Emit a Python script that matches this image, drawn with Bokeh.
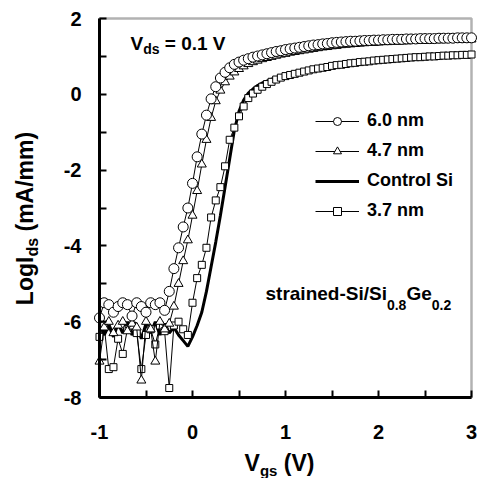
import math
from bokeh.plotting import figure
from bokeh.models import Label, Legend, LegendItem, FixedTicker, BoxAnnotation
from bokeh.embed import file_html
from bokeh.resources import INLINE

# ---------------- data ----------------
vgs = [-1.00, -0.95, -0.90, -0.85, -0.80, -0.75, -0.70, -0.65, -0.60, -0.55,
       -0.50, -0.45, -0.40, -0.35, -0.30, -0.25, -0.20, -0.15, -0.10, -0.05,
       0.00, 0.05, 0.10, 0.15, 0.20, 0.25, 0.30, 0.35, 0.40, 0.45,
       0.50, 0.55, 0.60, 0.65, 0.70, 0.75, 0.80, 0.85, 0.90, 0.95,
       1.00, 1.05, 1.10, 1.15, 1.20, 1.25, 1.30, 1.35, 1.40, 1.45,
       1.50, 1.55, 1.60, 1.65, 1.70, 1.75, 1.80, 1.85, 1.90, 1.95,
       2.00, 2.05, 2.10, 2.15, 2.20, 2.25, 2.30, 2.35, 2.40, 2.45,
       2.50, 2.55, 2.60, 2.65, 2.70, 2.75, 2.80, 2.85, 2.90, 2.95, 3.00]

log_ids_6p0 = [-5.90, -5.50, -5.55, -5.75, -5.60, -5.50, -5.55, -5.85, -5.50, -5.60,
               -5.75, -5.50, -5.55, -5.50, -5.70, -5.20, -4.60, -4.05, -3.50, -3.00,
               -2.35, -1.65, -1.05, -0.55, -0.12, 0.20, 0.43, 0.58, 0.70, 0.79,
               0.85, 0.90, 0.94, 0.98, 1.01, 1.04, 1.07, 1.10, 1.13, 1.15,
               1.18, 1.20, 1.22, 1.24, 1.26, 1.28, 1.30, 1.31, 1.33, 1.34,
               1.36, 1.37, 1.38, 1.39, 1.40, 1.40, 1.41, 1.42, 1.42, 1.43,
               1.43, 1.44, 1.44, 1.45, 1.45, 1.45, 1.46, 1.46, 1.46, 1.47,
               1.47, 1.47, 1.47, 1.48, 1.48, 1.48, 1.48, 1.49, 1.49, 1.49, 1.49]

log_ids_4p7 = [-7.05, -6.15, -6.00, -6.30, -6.10, -6.00, -6.25, -6.05, -6.15, -7.55,
               -6.00, -6.20, -7.05, -6.00, -6.20, -6.05, -5.60, -5.00, -4.40, -3.85,
               -3.20, -2.55, -1.85, -1.20, -0.62, -0.18, 0.10, 0.32, 0.47, 0.58,
               0.67, 0.74, 0.80, 0.85, 0.89, 0.93, 0.96, 0.99, 1.02, 1.05,
               1.07, 1.10, 1.12, 1.14, 1.16, 1.18, 1.20, 1.22, 1.24, 1.25,
               1.27, 1.28, 1.30, 1.31, 1.32, 1.33, 1.34, 1.35, 1.36, 1.36,
               1.37, 1.38, 1.38, 1.39, 1.39, 1.40, 1.40, 1.41, 1.41, 1.42,
               1.42, 1.42, 1.43, 1.43, 1.43, 1.44, 1.44, 1.44, 1.45, 1.45, 1.45]

log_ids_control = [-6.00, -6.35, -6.10, -6.40, -6.05, -6.30, -6.00, -6.35, -6.10, -6.45,
                   -6.05, -6.30, -6.00, -6.35, -6.05, -6.30, -6.15, -6.35, -6.50, -6.65,
                   -6.40, -6.10, -5.75, -5.20, -4.55, -3.90, -3.20, -2.45, -1.70, -0.95,
                   -0.45, -0.15, 0.03, 0.14, 0.23, 0.30, 0.35, 0.40, 0.44, 0.48,
                   0.51, 0.54, 0.57, 0.60, 0.62, 0.65, 0.67, 0.69, 0.71, 0.73,
                   0.75, 0.77, 0.78, 0.80, 0.81, 0.83, 0.84, 0.85, 0.87, 0.88,
                   0.89, 0.90, 0.91, 0.92, 0.93, 0.94, 0.95, 0.96, 0.97, 0.97,
                   0.98, 0.99, 0.99, 1.00, 1.01, 1.01, 1.02, 1.02, 1.03, 1.03, 1.04]

log_ids_3p7 = [-6.40, -6.10, -7.25, -7.20, -6.45, -6.85, -6.20, -6.10, -6.30, -7.25,
               -6.35, -6.20, -6.60, -6.10, -6.25, -7.75, -6.10, -6.00, -6.20, -6.35,
               -5.50, -4.85, -4.50, -4.05, -3.25, -2.80, -2.45, -1.90, -1.20, -0.88,
               -0.58, -0.32, -0.10, 0.02, 0.12, 0.20, 0.27, 0.33, 0.39, 0.44,
               0.48, 0.51, 0.54, 0.57, 0.60, 0.63, 0.66, 0.68, 0.70, 0.72,
               0.75, 0.77, 0.78, 0.80, 0.82, 0.83, 0.85, 0.86, 0.87, 0.89,
               0.90, 0.91, 0.92, 0.93, 0.94, 0.95, 0.96, 0.97, 0.98, 0.98,
               0.99, 1.00, 1.00, 1.01, 1.02, 1.02, 1.03, 1.03, 1.04, 1.04, 1.05]

series_labels = ["6.0 nm", "4.7 nm", "Control Si", "3.7 nm"]
x_ticks = [-1, 0, 1, 2, 3]
x_minor = [-0.5, 0.5, 1.5, 2.5]
y_ticks = [-8, -6, -4, -2, 0, 2]
y_minor = [-7, -5, -3, -1, 1]

# ---------------- layout (page pixels) ----------------
FONT = "Liberation Sans"
X0, X1, Y0, Y1 = -1, 3, -8, 2          # axis box in data units
BL, BR, BT, BB = 99, 471, 18, 397       # axis box on the page
CW, CH = 483, 478                       # canvas size
sx = (X1 - X0) / (BR - BL)
sy = (Y1 - Y0) / (BB - BT)
xr = (X0 - BL * sx, X1 + (CW - BR) * sx)
yr = (Y0 - (CH - BB) * sy, Y1 + BT * sy)
BASE_FIX = 0.48   # em: Label's baseline sits this far below the anchor


def dx(px):
    return X0 + (px - BL) * sx


def dy(py):
    return Y1 - (py - BT) * sy


p = figure(width=CW, height=CH, x_range=xr, y_range=yr,
           output_backend="svg", toolbar_location=None, min_border=0)
p.xgrid.visible = False
p.ygrid.visible = False
p.background_fill_color = "white"
p.border_fill_color = "white"
p.outline_line_color = None

p.add_layout(BoxAnnotation(left=X0, right=X1, bottom=Y0, top=Y1, fill_alpha=0,
                           line_color="black", line_width=2.5, level="underlay"))

for ax, tk, mn, loc, bnd in ((p.xaxis[0], x_ticks, x_minor, Y0, (X0, X1)),
                             (p.yaxis[0], y_ticks, y_minor, X0, (Y0, Y1))):
    ax.fixed_location = loc
    ax.bounds = bnd
    ax.ticker = FixedTicker(ticks=tk, minor_ticks=mn)
    ax.major_label_overrides = {t: str(t) for t in tk}
    ax.axis_line_width = 3
    ax.axis_line_color = "black"
    ax.major_tick_in = 7
    ax.major_tick_out = 0
    ax.minor_tick_in = 7
    ax.minor_tick_out = 0
    ax.major_tick_line_width = 2
    ax.minor_tick_line_width = 2
    ax.major_tick_line_color = "black"
    ax.minor_tick_line_color = "black"
    ax.major_label_text_font = FONT
    ax.major_label_text_font_style = "bold"
    ax.major_label_text_font_size = "20px"
    ax.major_label_text_color = "black"
p.xaxis.major_label_standoff = 27
p.yaxis.major_label_standoff = 18

# ---------------- curves ----------------
r_ctrl = p.line(vgs, log_ids_control, line_width=3, line_color="black")

r_sq_l = p.line(vgs, log_ids_3p7, line_width=1, line_color="black")
r_sq_m = p.scatter(vgs, log_ids_3p7, marker="square", size=7, fill_color="white",
                   line_color="black", line_width=1)

r_tr_l = p.line(vgs, log_ids_4p7, line_width=1, line_color="black")
r_tr_m = p.scatter(vgs, log_ids_4p7, marker="triangle", size=9, fill_color="white",
                   line_color="black", line_width=1)

r_ci_l = p.line(vgs, log_ids_6p0, line_width=1, line_color="black")
r_ci_m = p.scatter(vgs, log_ids_6p0, marker="circle", size=10, fill_color="white",
                   line_color="black", line_width=1)

legend = Legend(items=[
    LegendItem(label=series_labels[0], renderers=[r_ci_l, r_ci_m]),
    LegendItem(label=series_labels[1], renderers=[r_tr_l, r_tr_m]),
    LegendItem(label=series_labels[2], renderers=[r_ctrl]),
    LegendItem(label=series_labels[3], renderers=[r_sq_l, r_sq_m]),
], location=(315, CH - 221), padding=0, margin=0, spacing=9, glyph_width=44,
    glyph_height=20, label_height=20, label_standoff=8, label_text_font=FONT,
    label_text_font_style="bold", label_text_font_size="18px", label_text_color="black",
    border_line_alpha=0, background_fill_alpha=0)
p.add_layout(legend)

# ---------------- texts with subscripts ----------------
W = {' ': 278, '(': 333, ')': 333, '-': 333, '.': 278, '/': 278, '=': 584,
     'A': 722, 'C': 722, 'G': 778, 'I': 278, 'L': 611, 'S': 667, 'V': 667,
     'a': 556, 'd': 611, 'e': 556, 'g': 611, 'i': 278, 'l': 278, 'm': 889,
     'n': 611, 'o': 611, 'r': 389, 's': 556, 't': 333}


def tw(s, size):
    return sum(W.get(c, 556) for c in s) * size / 1000.0


def rich(parts, px, py, vertical=False):
    """px, py: page position of the baseline start of the first piece."""
    adv = 0.0
    for text, size, shift in parts:
        lead = len(text) - len(text.lstrip(" "))
        adv += tw(" " * lead, size)
        body = text.lstrip(" ")
        down = shift - BASE_FIX * size
        if vertical:
            lx, ly = px + down, py - adv
        else:
            lx, ly = px + adv, py + down
        p.add_layout(Label(x=dx(lx), y=dy(ly), text=body, text_font=FONT,
                           text_font_style="bold", text_font_size=f"{size}px",
                           text_color="black", text_align="left",
                           text_baseline="alphabetic",
                           angle=(math.pi / 2 if vertical else 0)))
        adv += tw(body, size)


rich([("V", 19, 0), ("ds", 14, 3), (" = 0.1 V", 19, 0)], 130, 52)
rich([("strained-Si/Si", 19, 0), ("0.8", 14, 9), ("Ge", 19, 0), ("0.2", 14, 9)], 265, 302)

xt = [("V", 23, 0), ("gs", 15, 3), (" (V)", 23, 0)]
xt_w = sum(tw(t, s) for t, s, _ in xt)
rich(xt, 279 - xt_w / 2, 474)

yt = [("LogI", 23, 0), ("ds", 16, 4), (" (mA/mm)", 23, 0)]
yt_w = sum(tw(t, s) for t, s, _ in yt)
rich(yt, 36, 218 + yt_w / 2, vertical=True)

open("out.html", "w").write(file_html(p, INLINE))
